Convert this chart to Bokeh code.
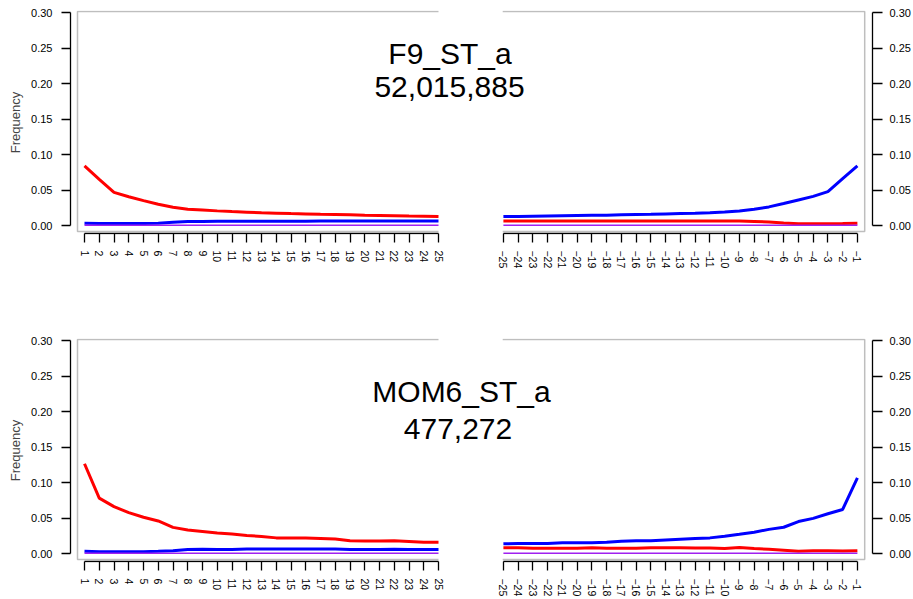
from bokeh.plotting import figure
from bokeh.layouts import column
from bokeh.models import (Range1d, FixedTicker, PrintfTickFormatter, ColumnDataSource,
                          LinearAxis, CustomJSTickFormatter)
from bokeh.core.properties import value
from bokeh.embed import file_html
from bokeh.resources import INLINE

# ---------------- data ----------------
pos5 = list(range(1, 26))            # 5' end positions
pos3 = list(range(-25, 0))           # 3' end positions
pos5_labels = [str(v) for v in pos5]
pos3_labels = ["\u2212" + str(-v) for v in pos3]
y_ticks = [0.0, 0.05, 0.10, 0.15, 0.20, 0.25, 0.30]

names = ["F9_ST_a", "MOM6_ST_a"]
read_counts = ["52,015,885", "477,272"]

f9_ct5 = [0.084, 0.065, 0.0467, 0.0405, 0.035, 0.030, 0.0257, 0.023, 0.0218, 0.0206,
          0.0196, 0.0188, 0.0180, 0.0174, 0.0168, 0.0163, 0.0158, 0.0154, 0.0150, 0.0145,
          0.0141, 0.0137, 0.0133, 0.0130, 0.0126]
f9_ga5 = [0.0030, 0.0028, 0.0027, 0.0027, 0.0028, 0.0033, 0.0045, 0.0055, 0.0058, 0.0060,
          0.0060, 0.0060, 0.0061, 0.0061, 0.0061, 0.0061, 0.0062, 0.0062, 0.0062, 0.0062,
          0.0063, 0.0063, 0.0063, 0.0064, 0.0065]
f9_oth5 = [0.0004, 0.0004, 0.0004, 0.0004, 0.0004, 0.0004, 0.0004, 0.0004, 0.0004, 0.0004,
           0.0004, 0.0004, 0.0004, 0.0004, 0.0004, 0.0004, 0.0004, 0.0004, 0.0004, 0.0004,
           0.0004, 0.0004, 0.0004, 0.0004, 0.0004]
f9_ct3 = [0.0065, 0.0065, 0.0065, 0.0065, 0.0065, 0.0065, 0.0065, 0.0065, 0.0065, 0.0065,
          0.0065, 0.0065, 0.0065, 0.0065, 0.0065, 0.0064, 0.0063, 0.0058, 0.0048, 0.0035,
          0.0025, 0.0025, 0.0026, 0.0027, 0.0030]
f9_ga3 = [0.0126, 0.0128, 0.0131, 0.0134, 0.0137, 0.0140, 0.0143, 0.0146, 0.0150, 0.0154,
          0.0158, 0.0163, 0.0168, 0.0173, 0.0180, 0.0190, 0.0205, 0.0228, 0.0262, 0.0310,
          0.0360, 0.0410, 0.0477, 0.0660, 0.0840]
f9_oth3 = [0.0004, 0.0004, 0.0004, 0.0004, 0.0004, 0.0004, 0.0004, 0.0004, 0.0004, 0.0004,
           0.0004, 0.0004, 0.0004, 0.0004, 0.0004, 0.0004, 0.0004, 0.0004, 0.0004, 0.0004,
           0.0004, 0.0004, 0.0004, 0.0004, 0.0004]

mom_ct5 = [0.1264, 0.078, 0.066, 0.0575, 0.051, 0.0458, 0.0368, 0.033, 0.031, 0.029,
           0.0274, 0.0255, 0.024, 0.022, 0.022, 0.0217, 0.0212, 0.0203, 0.018, 0.0175,
           0.0175, 0.018, 0.017, 0.016, 0.016]
mom_ga5 = [0.0033, 0.0026, 0.0024, 0.0023, 0.0024, 0.0030, 0.0040, 0.0055, 0.0060, 0.0057,
           0.0057, 0.0065, 0.0064, 0.0063, 0.0062, 0.0064, 0.0063, 0.0062, 0.0058, 0.0058,
           0.0058, 0.0060, 0.0058, 0.0057, 0.0057]
mom_oth5 = [0.0004, 0.0004, 0.0004, 0.0004, 0.0004, 0.0004, 0.0004, 0.0004, 0.0004, 0.0004,
            0.0004, 0.0004, 0.0004, 0.0004, 0.0004, 0.0004, 0.0004, 0.0004, 0.0004, 0.0004,
            0.0004, 0.0004, 0.0004, 0.0004, 0.0004]
mom_ct3 = [0.0080, 0.0080, 0.0075, 0.0075, 0.0075, 0.0075, 0.0080, 0.0075, 0.0075, 0.0075,
           0.0080, 0.0080, 0.0080, 0.0078, 0.0076, 0.0072, 0.0084, 0.0070, 0.0060, 0.0047,
           0.0033, 0.0037, 0.0037, 0.0035, 0.0040]
mom_ga3 = [0.0136, 0.0140, 0.0140, 0.0140, 0.0150, 0.0150, 0.0152, 0.0160, 0.0173, 0.0178,
           0.0180, 0.0190, 0.0200, 0.0210, 0.0220, 0.0243, 0.0270, 0.0300, 0.0340, 0.0370,
           0.0450, 0.0495, 0.0560, 0.0620, 0.1065]
mom_oth3 = [0.0004, 0.0004, 0.0004, 0.0004, 0.0004, 0.0004, 0.0004, 0.0004, 0.0004, 0.0004,
            0.0004, 0.0004, 0.0004, 0.0004, 0.0004, 0.0004, 0.0004, 0.0004, 0.0004, 0.0004,
            0.0004, 0.0004, 0.0004, 0.0004, 0.0004]

# ---------------- styling / geometry ----------------
FONT = "Liberation Sans"
RED = "#FF0000"
BLUE = "#0000FF"
PURPLE = "#A020F0"
BOX = "#BEBEBE"

SX = 14.75          # px per position unit
SY = 710.0          # px per frequency unit
GAP = 4.4           # gap (in position units) between the 5' and 3' panels
OFF3 = 25 + GAP - (-25)   # shift that places the 3' panel right of the 5' panel
FRAME_W = 802
FRAME_H = 224
X0 = 1 - 14 / SX    # x value at the left frame edge (14 px left of position 1)

all_ticks = pos5 + [p + OFF3 for p in pos3]
all_labels = pos5_labels + pos3_labels


def style_axis(ax):
    ax.axis_line_width = 1.3
    ax.axis_line_color = "black"
    ax.major_tick_line_width = 1.3
    ax.major_tick_line_color = "black"
    ax.minor_tick_line_color = None
    ax.major_label_text_font = FONT
    ax.major_label_text_font_size = "11px"
    ax.major_label_text_color = "black"


def make_row(name, count, ct5, ga5, oth5, ct3, ga3, oth3,
             top_border, bottom_border, centers, offsets):
    p = figure(frame_width=FRAME_W, frame_height=FRAME_H,
               x_range=Range1d(X0, X0 + FRAME_W / SX),
               y_range=Range1d(-9 / SY, 0.30 + 2 / SY),
               output_backend="svg", toolbar_location=None,
               y_axis_location="left", min_border=0,
               min_border_left=70, min_border_right=41,
               min_border_top=top_border, min_border_bottom=bottom_border)
    p.outline_line_color = None
    p.xgrid.visible = False
    p.ygrid.visible = False
    p.background_fill_color = "white"
    p.border_fill_color = "white"

    # x axis: ticks and labels only, the two axis segments are drawn below
    xa = p.xaxis[0]
    style_axis(xa)
    xa.axis_line_color = None
    xa.major_tick_out = 8
    xa.major_tick_in = 1
    xa.major_label_text_font_size = "10.5px"
    xa.ticker = FixedTicker(ticks=all_ticks)
    xa.formatter = CustomJSTickFormatter(
        args=dict(tv=all_ticks, tl=all_labels),
        code="""
        let best = 0, bd = 1e9;
        for (let i = 0; i < tv.length; i++) {
          const d = Math.abs(tv[i] - tick);
          if (d < bd) { bd = d; best = i; }
        }
        return tl[best];
        """)
    xa.major_label_orientation = "vertical"
    xa.major_label_standoff = 8

    # left y axis
    ya = p.yaxis[0]
    style_axis(ya)
    ya.major_tick_out = 9
    ya.major_tick_in = 0
    ya.ticker = FixedTicker(ticks=y_ticks)
    ya.bounds = (0, 0.30)
    ya.formatter = PrintfTickFormatter(format="%.2f")
    ya.major_label_standoff = 9
    ya.axis_label = "Frequency"
    ya.axis_label_text_font = FONT
    ya.axis_label_text_font_size = "13px"
    ya.axis_label_text_font_style = "normal"
    ya.axis_label_standoff = 5

    # right y axis
    yr = LinearAxis(ticker=FixedTicker(ticks=y_ticks),
                    formatter=PrintfTickFormatter(format="%.2f"), bounds=(0, 0.30))
    style_axis(yr)
    yr.major_tick_out = 10
    yr.major_tick_in = 0
    yr.major_label_standoff = 7
    p.add_layout(yr, "right")

    # panel boxes (grey) and x-axis segments
    top = 0.30 + 1 / SY
    bot = -6 / SY
    axy = -8 / SY
    l_left = 1 - 7 / SX
    l_right = 25
    r_left = -25 + OFF3 - 0.7 / SX
    r_right = -1 + OFF3 + 7.3 / SX
    p.line([l_right, l_left, l_left, l_right], [top, top, bot, bot],
           line_color=BOX, line_width=1.5)
    p.line([r_left, r_right, r_right, r_left], [top, top, bot, bot],
           line_color=BOX, line_width=1.5)
    p.line([pos5[0], pos5[-1]], [axy, axy], line_color="black", line_width=1.3)
    p.line([pos3[0] + OFF3, pos3[-1] + OFF3], [axy, axy], line_color="black", line_width=1.3)

    src5 = ColumnDataSource(dict(x=pos5, ct=ct5, ga=ga5, oth=oth5))
    src3 = ColumnDataSource(dict(x=[v + OFF3 for v in pos3], ct=ct3, ga=ga3, oth=oth3))
    for src in (src5, src3):
        p.line("x", "ct", source=src, line_color=RED, line_width=3)
        p.line("x", "ga", source=src, line_color=BLUE, line_width=3)
        p.line("x", "oth", source=src, line_color=PURPLE, line_width=1.5)

    # centred sample name and read count
    for txt, cx, off in zip([name, count], centers, offsets):
        xd = 1 + (cx - 84) / SX
        yd = 0.30 - off / SY
        p.text(x=[xd], y=[yd], text=[txt], text_font=value(FONT),
               text_font_size="30px", text_align="center",
               text_baseline="alphabetic", text_color="black")
    return p


p1 = make_row(names[0], read_counts[0], f9_ct5, f9_ga5, f9_oth5, f9_ct3, f9_ga3, f9_oth3,
              10, 40, (449.5, 449.0), (41.3, 74.0))
p2 = make_row(names[1], read_counts[1], mom_ct5, mom_ga5, mom_oth5, mom_ct3, mom_ga3, mom_oth3,
              64, 36, (461.0, 457.5), (51.0, 88.3))

layout = column(p1, p2)
open("out.html", "w").write(file_html(layout, INLINE))
